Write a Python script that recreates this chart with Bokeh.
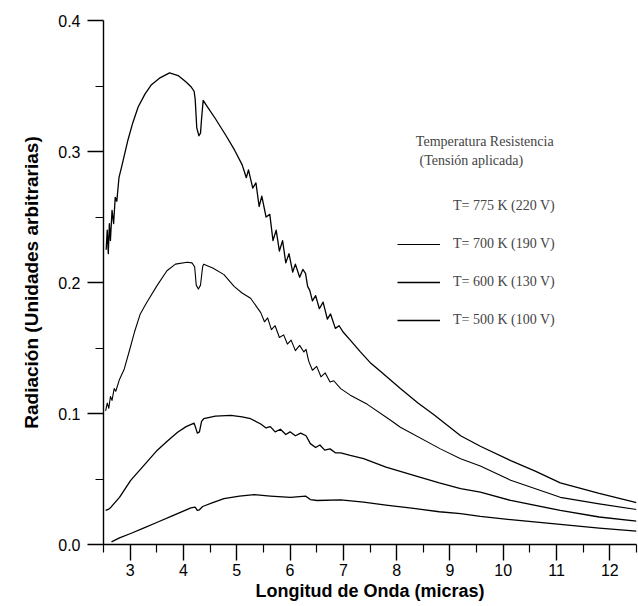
from bokeh.plotting import figure
from bokeh.models import FixedTicker, Legend, LegendItem, Label, PrintfTickFormatter, Range1d, Title
from bokeh.embed import file_html
from bokeh.resources import INLINE

# ---- data ----
lam_775 = [2.55, 2.57, 2.59, 2.61, 2.63, 2.66, 2.69, 2.72, 2.75, 2.79, 2.85, 2.96, 3.05, 3.15, 3.28,
           3.40, 3.55, 3.74, 3.90, 4.05, 4.15, 4.20, 4.22, 4.25, 4.29, 4.32, 4.34, 4.37, 4.45, 4.60,
           4.80, 4.96, 5.10, 5.18, 5.22, 5.30, 5.36, 5.42, 5.47, 5.55, 5.62, 5.68, 5.74, 5.80, 5.86,
           5.92, 5.98, 6.05, 6.10, 6.18, 6.24, 6.29, 6.33, 6.37, 6.42, 6.48, 6.55, 6.62, 6.70, 6.76,
           6.85, 6.92, 7.00, 7.13, 7.32, 7.50, 7.70, 8.07, 8.40, 8.70, 9.20, 9.57, 10.14, 10.60, 11.07,
           11.80, 12.50]
rad_775 = [0.225, 0.240, 0.222, 0.245, 0.232, 0.255, 0.245, 0.265, 0.262, 0.280, 0.290, 0.309, 0.322, 0.334, 0.344,
           0.351, 0.356, 0.360, 0.358, 0.353, 0.349, 0.346, 0.340, 0.318, 0.312, 0.314, 0.325, 0.339, 0.334, 0.325,
           0.312, 0.301, 0.290, 0.280, 0.286, 0.272, 0.276, 0.258, 0.266, 0.250, 0.252, 0.232, 0.240, 0.224, 0.232,
           0.215, 0.222, 0.208, 0.214, 0.204, 0.210, 0.207, 0.197, 0.194, 0.186, 0.190, 0.180, 0.185, 0.172, 0.176,
           0.165, 0.167, 0.162, 0.156, 0.147, 0.139, 0.132, 0.119, 0.108, 0.099, 0.083, 0.075, 0.064, 0.056, 0.047,
           0.039, 0.032]

lam_700 = [2.54, 2.57, 2.60, 2.63, 2.66, 2.70, 2.73, 2.80, 2.89, 3.00, 3.08, 3.19, 3.30, 3.51, 3.69,
           3.85, 4.07, 4.16, 4.21, 4.24, 4.28, 4.32, 4.36, 4.38, 4.55, 4.76, 4.95, 5.10, 5.26, 5.45,
           5.52, 5.58, 5.65, 5.72, 5.80, 5.88, 5.95, 6.02, 6.10, 6.18, 6.26, 6.30, 6.35, 6.42, 6.50,
           6.58, 6.66, 6.75, 6.82, 6.95, 7.13, 7.45, 7.88, 8.07, 8.82, 9.20, 9.57, 10.14, 11.07, 11.80,
           12.50]
rad_700 = [0.102, 0.108, 0.104, 0.113, 0.110, 0.119, 0.117, 0.126, 0.134, 0.150, 0.162, 0.176, 0.184, 0.198, 0.209,
           0.214, 0.2155, 0.215, 0.212, 0.198, 0.195, 0.198, 0.212, 0.214, 0.211, 0.206, 0.197, 0.192, 0.188, 0.177,
           0.170, 0.173, 0.164, 0.167, 0.158, 0.160, 0.153, 0.156, 0.148, 0.152, 0.147, 0.149, 0.140, 0.133, 0.136,
           0.128, 0.131, 0.124, 0.125, 0.119, 0.114, 0.107, 0.095, 0.0895, 0.073, 0.0655, 0.060, 0.049, 0.036, 0.031,
           0.0267]

lam_600 = [2.54, 2.60, 2.64, 2.80, 3.01, 3.25, 3.51, 3.70, 3.89, 4.05, 4.20, 4.23, 4.26, 4.30, 4.34,
           4.38, 4.60, 4.89, 5.10, 5.26, 5.45, 5.55, 5.63, 5.72, 5.82, 5.92, 6.00, 6.10, 6.20, 6.30,
           6.38, 6.48, 6.56, 6.65, 6.75, 6.85, 6.95, 7.13, 7.38, 7.80, 8.32, 8.80, 9.20, 9.57, 10.14,
           11.07, 11.80, 12.50]
rad_600 = [0.026, 0.027, 0.0285, 0.036, 0.049, 0.060, 0.072, 0.079, 0.0857, 0.090, 0.0926, 0.089, 0.085, 0.086, 0.094,
           0.096, 0.098, 0.0985, 0.0975, 0.096, 0.092, 0.089, 0.090, 0.086, 0.088, 0.084, 0.086, 0.083, 0.085, 0.083,
           0.077, 0.074, 0.076, 0.072, 0.073, 0.070, 0.070, 0.068, 0.0656, 0.059, 0.0527, 0.047, 0.0427, 0.040, 0.0336,
           0.026, 0.021, 0.0178]

lam_500 = [2.65, 2.80, 3.01, 3.25, 3.51, 3.80, 4.14, 4.22, 4.26, 4.30, 4.36, 4.55, 4.76, 5.05, 5.33,
           5.63, 6.01, 6.29, 6.38, 6.51, 6.95, 7.38, 7.80, 8.32, 8.80, 9.20, 9.57, 10.14, 11.07, 11.80,
           12.50]
rad_500 = [0.002, 0.005, 0.0084, 0.0125, 0.017, 0.022, 0.028, 0.0285, 0.026, 0.0265, 0.029, 0.032, 0.035, 0.037, 0.038,
           0.037, 0.036, 0.037, 0.0343, 0.0336, 0.034, 0.0323, 0.030, 0.0275, 0.025, 0.0235, 0.0215, 0.019, 0.0153, 0.0125,
           0.0102]

series_labels = ["T= 775 K (220 V)", "T= 700 K (190 V)", "T= 600 K (130 V)", "T= 500 K (100 V)"]
legend_header = ["Temperatura Resistencia", "(Tensión aplicada)"]

x_ticks = [3, 4, 5, 6, 7, 8, 9, 10, 11, 12]
x_minor = [2.5, 3.5, 4.5, 5.5, 6.5, 7.5, 8.5, 9.5, 10.5, 11.5, 12.5]
y_ticks = [0.0, 0.1, 0.2, 0.3, 0.4]
y_minor = [0.05, 0.15, 0.25, 0.35]

x_title = "Longitud de Onda (micras)"
y_title = "Radiación (Unidades arbitrarias)"

# ---- figure ----
p = figure(width=638, height=606, output_backend="svg", toolbar_location=None,
           x_range=Range1d(2.5, 12.5), y_range=Range1d(0.0, 0.4),
           min_border_left=103, min_border_right=2, min_border_top=20, min_border_bottom=62)
p.xgrid.visible = False
p.ygrid.visible = False
p.outline_line_color = None
p.background_fill_color = "white"
p.border_fill_color = "white"

sans = "Liberation Sans"
serif = "Liberation Serif"

for ax in (p.xaxis[0], p.yaxis[0]):
    ax.axis_line_width = 1.4
    ax.axis_line_color = "black"
    ax.major_tick_line_width = 1.4
    ax.minor_tick_line_width = 1.2
    ax.major_tick_line_color = "black"
    ax.minor_tick_line_color = "black"
    ax.major_tick_in = 0
    ax.minor_tick_in = 0
    ax.major_tick_out = 16
    ax.minor_tick_out = 8
    ax.major_label_text_font = sans
    ax.major_label_text_font_size = "16px"
    ax.major_label_text_color = "black"
    ax.axis_label_text_font = sans
    ax.axis_label_text_font_style = "bold"
    ax.axis_label_text_font_size = "18px"
    ax.axis_label_text_color = "black"

p.xaxis.ticker = FixedTicker(ticks=x_ticks, minor_ticks=x_minor)
p.yaxis.ticker = FixedTicker(ticks=y_ticks, minor_ticks=y_minor)
p.yaxis.formatter = PrintfTickFormatter(format="%.1f")
p.xaxis.axis_label = x_title
p.xaxis.major_label_standoff = 3
p.yaxis.major_label_standoff = 7
p.xaxis.axis_label_standoff = 2

# y title as a left-side title, shifted slightly above the frame centre as in the reference
p.add_layout(Title(text=y_title, align="center", offset=22, standoff=27,
                   text_font=sans, text_font_style="bold", text_font_size="19px",
                   text_color="black"), "left")

lw = 1.3
r775 = p.line(lam_775, rad_775, line_color="black", line_width=lw, line_join="round")
r775_key = p.line(lam_775, rad_775, line_alpha=0)
r700 = p.line(lam_700, rad_700, line_color="black", line_width=1.1, line_join="round")
r600 = p.line(lam_600, rad_600, line_color="black", line_width=lw, line_join="round")
r500 = p.line(lam_500, rad_500, line_color="black", line_width=lw, line_join="round")

legend = Legend(items=[LegendItem(label=series_labels[0], renderers=[r775_key]),
                       LegendItem(label=series_labels[1], renderers=[r700]),
                       LegendItem(label=series_labels[2], renderers=[r600]),
                       LegendItem(label=series_labels[3], renderers=[r500])],
                location=(294, 214), padding=0, margin=0, spacing=18,
                glyph_width=43, glyph_height=20, label_height=20, label_standoff=13,
                label_text_font=serif, label_text_font_size="14px",
                border_line_color=None, background_fill_alpha=0)
p.add_layout(legend, "center")

p.add_layout(Label(x=8.36, y=0.308, text=legend_header[0], text_font=serif, text_font_size="14px",
                   text_baseline="middle", text_align="left"))
p.add_layout(Label(x=8.43, y=0.293, text=legend_header[1], text_font=serif, text_font_size="14px",
                   text_baseline="middle", text_align="left"))

open("out.html", "w").write(file_html(p, INLINE))
